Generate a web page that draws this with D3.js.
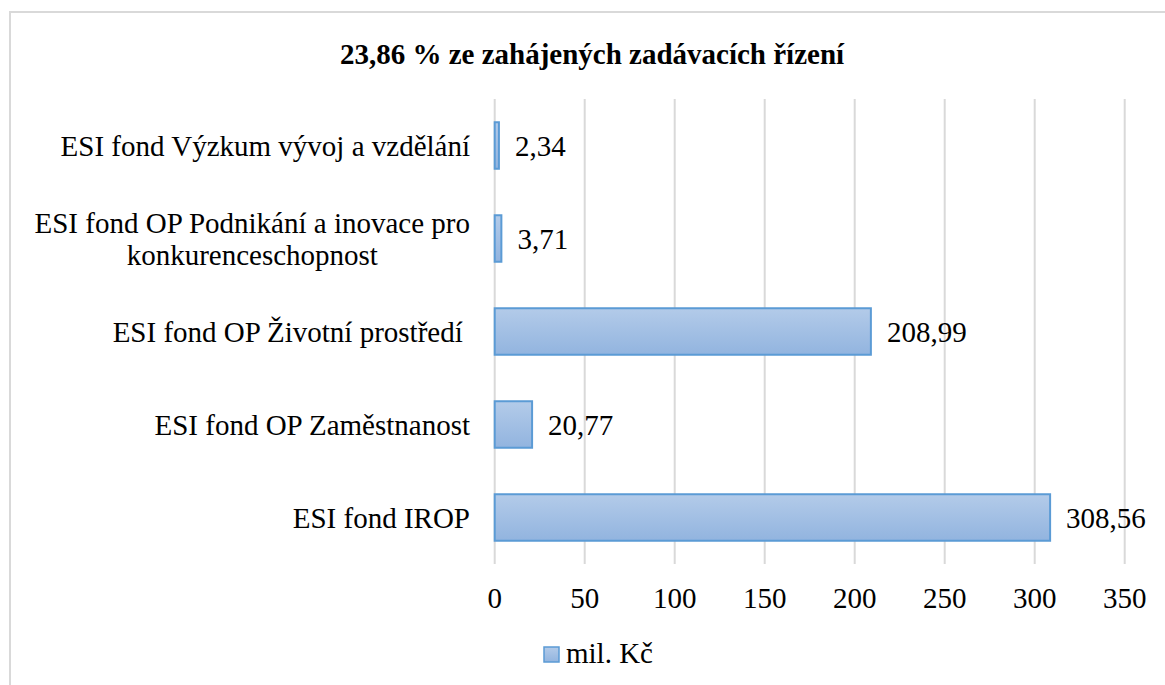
<!DOCTYPE html>
<html>
<head>
<meta charset="utf-8">
<script src="https://cdn.jsdelivr.net/npm/d3@7"></script>
<style>
  body { margin: 0; background: #fff; }
</style>
</head>
<body>
<script>
const categories = [
    ["ESI fond Výzkum vývoj a vzdělání"],
    ["ESI fond OP Podnikání a inovace pro", "konkurenceschopnost"],
    ["ESI fond OP Životní prostředí "],
    ["ESI fond OP Zaměstnanost"],
    ["ESI fond IROP"]
];
const values = [2.34, 3.71, 208.99, 20.77, 308.56];
const valueLabels = ["2,34", "3,71", "208,99", "20,77", "308,56"];
const ticks = [0, 50, 100, 150, 200, 250, 300, 350];
const title = "23,86 % ze zahájených zadávacích řízení";
const seriesName = "mil. Kč";

const W = 1165, H = 685;
const plot = {left: 494.7, right: 1124.7, top: 99, bottom: 564};
const FONT = "'Times New Roman', 'Liberation Serif', 'DejaVu Serif', serif";

const svg = d3.select("body").append("svg")
    .attr("width", W)
    .attr("height", H)
    .attr("font-family", FONT)
    .style("font-family", FONT);

// gradient for bars
const grad = svg.append("defs").append("linearGradient")
    .attr("id", "barGrad")
    .attr("x1", 0).attr("y1", 0).attr("x2", 0).attr("y2", 1);
grad.append("stop").attr("offset", "0%").attr("stop-color", "#b3cbe9");
grad.append("stop").attr("offset", "100%").attr("stop-color", "#92b4df");

// chart frame
svg.append("path")
    .attr("d", `M${W + 5},12 H10 V${H + 5}`)
    .attr("fill", "none")
    .attr("stroke", "#d9d9d9")
    .attr("stroke-width", 2);

svg.append("text")
    .attr("x", 592)
    .attr("y", 64)
    .attr("text-anchor", "middle")
    .style("font-size", "29px")
    .style("font-weight", "bold")
    .text(title);

const x = d3.scaleLinear()
    .domain([0, 350])
    .range([plot.left, plot.right]);

const y = d3.scaleBand()
    .domain(d3.range(values.length))
    .range([plot.top, plot.bottom])
    .paddingInner(0.5)
    .paddingOuter(0.25);

// gridlines
svg.append("g")
    .selectAll("line")
    .data(ticks)
    .enter()
    .append("line")
        .attr("x1", d => x(d))
        .attr("x2", d => x(d))
        .attr("y1", plot.top)
        .attr("y2", plot.bottom)
        .attr("stroke", "#d9d9d9")
        .attr("stroke-width", 2);

// x tick labels
svg.append("g")
    .selectAll("text")
    .data(ticks)
    .enter()
    .append("text")
        .attr("x", d => x(d))
        .attr("y", 608)
        .attr("text-anchor", "middle")
        .style("font-size", "29px")
        .text(d => d);

// bars
svg.append("g")
    .selectAll("rect")
    .data(values)
    .enter()
    .append("rect")
        .attr("x", x(0))
        .attr("y", (d, i) => y(i))
        .attr("width", d => x(d) - x(0))
        .attr("height", y.bandwidth())
        .attr("fill", "url(#barGrad)")
        .attr("stroke", "#5b9bd5")
        .attr("stroke-width", 2);

// value labels
svg.append("g")
    .selectAll("text")
    .data(values)
    .enter()
    .append("text")
        .attr("x", d => x(d) + 16)
        .attr("y", (d, i) => y(i) + y.bandwidth() / 2 + 10)
        .style("font-size", "29px")
        .text((d, i) => valueLabels[i]);

// category labels
const labelRight = 470;
const catG = svg.append("g");
categories.forEach((lines, i) => {
    const cy = y(i) + y.bandwidth() / 2 + 10;
    const t = catG.append("text")
        .style("font-size", "29px")
        .style("white-space", "pre");
    if (lines.length === 1) {
        t.attr("x", labelRight).attr("y", cy).attr("text-anchor", "end").text(lines[0]);
    } else {
        const spans = lines.map((l, k) => t.append("tspan")
            .attr("y", cy + (k - (lines.length - 1) / 2) * 32)
            .text(l));
        const maxW = d3.max(spans, s => s.node().getComputedTextLength());
        const cx = labelRight - maxW / 2;
        t.attr("text-anchor", "middle");
        spans.forEach(s => s.attr("x", cx));
    }
});

// legend
const leg = svg.append("g").attr("transform", "translate(544,647)");
leg.append("rect")
    .attr("x", 0).attr("y", 0)
    .attr("width", 15).attr("height", 15)
    .attr("fill", "url(#barGrad)")
    .attr("stroke", "#5b9bd5")
    .attr("stroke-width", 1.5);
leg.append("text")
    .attr("x", 22)
    .attr("y", 16)
    .style("font-size", "29px")
    .text(seriesName);
</script>
</body>
</html>
